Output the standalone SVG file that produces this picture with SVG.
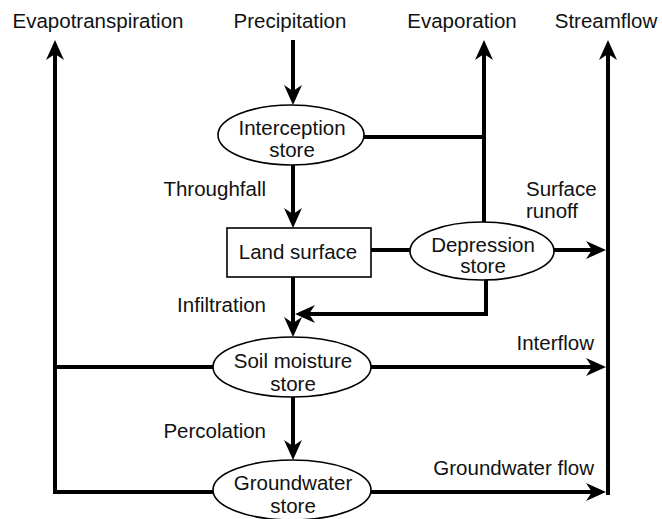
<svg xmlns="http://www.w3.org/2000/svg" width="662" height="519" viewBox="0 0 662 519">
<defs>
<marker id="arr" markerUnits="userSpaceOnUse" viewBox="-7 -10 22 20" markerWidth="22" markerHeight="20" refX="0" refY="0" orient="auto">
<path d="M14 0 L-6 -9 L0 0 L-6 9 Z" fill="#000"/>
</marker>
<style>
.t{font-family:"Liberation Sans",Arial,sans-serif;font-size:20.5px;fill:#111}
.m{text-anchor:middle}
.e{text-anchor:end}
.node{fill:#fff;stroke:#000;stroke-width:1.6}
.flow{fill:none;stroke:#000;stroke-width:4}
.fa{fill:none;stroke:#000;stroke-width:4;marker-end:url(#arr)}
</style>
</defs>
<rect width="662" height="519" fill="#fff"/>
<g id="connectors">
<line class="fa" x1="293" y1="40" x2="293" y2="91"/>
<line class="fa" x1="293" y1="165" x2="293" y2="214"/>
<line class="fa" x1="293" y1="277" x2="293" y2="323"/>
<line class="fa" x1="293" y1="397" x2="293" y2="446"/>
<line class="flow" x1="363" y1="137" x2="486" y2="137"/>
<line class="fa" x1="484" y1="222" x2="484" y2="54"/>
<line class="flow" x1="371" y1="250" x2="411" y2="250"/>
<line class="fa" x1="553" y1="250" x2="592" y2="250"/>
<path class="fa" d="M486 280 V314 H309"/>
<line class="fa" x1="608" y1="495" x2="608" y2="54"/>
<line class="fa" x1="371" y1="367" x2="592" y2="367"/>
<line class="fa" x1="371" y1="492" x2="592" y2="492"/>
<path class="fa" d="M213 492 H55 V54"/>
<line class="flow" x1="55" y1="367" x2="213" y2="367"/>
</g>
<g id="interception">
<ellipse class="node" cx="291" cy="135" rx="73" ry="30"/>
<text class="t m" x="292" y="135">Interception</text>
<text class="t m" x="292" y="157">store</text>
</g>
<g id="land-surface">
<rect class="node" x="227" y="228" width="144" height="49"/>
<text class="t m" x="298" y="259">Land surface</text>
</g>
<g id="depression">
<ellipse class="node" cx="482" cy="251" rx="72" ry="29"/>
<text class="t m" x="483" y="252">Depression</text>
<text class="t m" x="483" y="273">store</text>
</g>
<g id="soil-moisture">
<ellipse class="node" cx="292" cy="367" rx="79" ry="30"/>
<text class="t m" x="293" y="368">Soil moisture</text>
<text class="t m" x="293" y="391">store</text>
</g>
<g id="groundwater">
<ellipse class="node" cx="292" cy="490" rx="79" ry="30"/>
<text class="t m" x="293" y="490">Groundwater</text>
<text class="t m" x="293" y="513">store</text>
</g>
<g id="labels">
<text class="t m" x="98" y="28">Evapotranspiration</text>
<text class="t m" x="290" y="28">Precipitation</text>
<text class="t m" x="462" y="28">Evaporation</text>
<text class="t m" x="606" y="28">Streamflow</text>
<text class="t e" x="266" y="196">Throughfall</text>
<text class="t" x="526" y="196">Surface</text>
<text class="t" x="526" y="218">runoff</text>
<text class="t e" x="266" y="312">Infiltration</text>
<text class="t e" x="266" y="438">Percolation</text>
<text class="t e" x="594" y="350">Interflow</text>
<text class="t e" x="594" y="475">Groundwater flow</text>
</g>
</svg>
